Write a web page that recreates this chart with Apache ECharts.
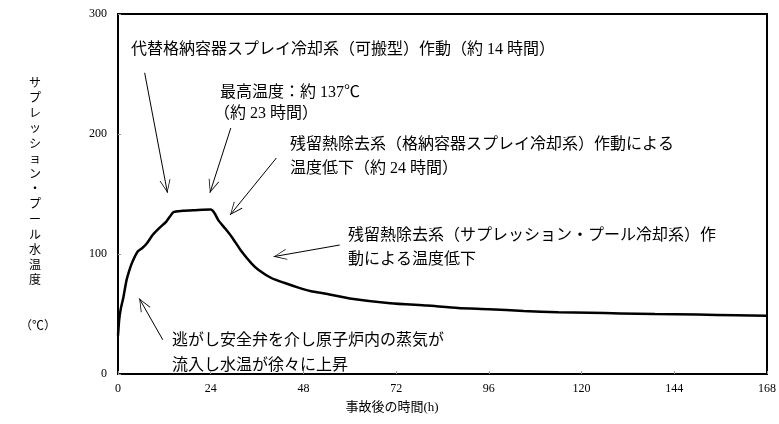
<!DOCTYPE html>
<html>
<head>
<meta charset="utf-8">
<script src="https://cdn.jsdelivr.net/npm/echarts@6/dist/echarts.min.js"></script>
<style>
  html, body { margin: 0; padding: 0; background: #fff; }
  #chart { width: 779px; height: 424px; }
</style>
</head>
<body>
<div id="chart"></div>
<script>
// 事故後の時間 (h) と サプレッション・プール水温度 (℃)
const hours = [0, 0.3, 0.7, 1.4, 2.2, 3.1, 3.8, 5.1, 6.3, 7.5, 9, 10.8, 12.5, 14.4, 16.7, 20, 24,
  25, 26, 27.8, 29.5, 32, 34.6, 36.4, 39.7, 43, 46.7, 50, 53.5, 60, 70.5, 80, 88, 96, 105, 114,
  122, 130, 139, 150, 160, 168];
const temps = [32, 45, 54, 64, 78, 88, 94, 102, 105, 109, 116, 122, 127, 135, 136, 136.5, 137,
  134, 128, 121, 114, 102, 92, 86.7, 80, 76, 72, 69, 67, 63, 59, 57, 55, 54, 52.5, 51.5,
  51, 50.5, 50, 49.5, 49, 48.5];

const xTicks = [0, 24, 48, 72, 96, 120, 144, 168];
const yTicks = [0, 100, 200, 300];

// 矢印 (始点 [h, ℃], 終点 [h, ℃])
const arrowFrom = [[6.9, 251], [29.2, 205], [41, 180], [57.4, 107.5], [11.6, 28.5]];
const arrowTo = [[12.8, 151], [23.8, 151], [29, 132.5], [40.3, 97.8], [5.5, 63]];

const serif = "'Liberation Serif', 'Noto Sans CJK JP', serif";
const jp = "'Liberation Serif', 'Noto Sans CJK JP', sans-serif";

// open chevron pointing up, tip in the middle of the bbox
const chevron = 'path://M50 -100 L50.4 -100 L50 -99.6 Z M50 0 L100 100 L92 100 L50 14 L8 100 L0 100 Z';

const myChart = echarts.init(document.getElementById('chart'));

function label(text, x, y) {
  return {
    type: 'text',
    x: x, y: y,
    style: {
      text: text,
      fill: '#000',
      fontSize: 16,
      fontFamily: jp,
      textVerticalAlign: 'middle',
      verticalAlign: 'middle'
    }
  };
}

const yName = 'サプレッション・プール水温度'.split('').join('\n');

let option = {
  animation: false,
  grid: {
    left: 118,
    right: 6,
    top: 14,
    bottom: 50,
    show: true,
    borderColor: '#000',
    borderWidth: 2
  },
  xAxis: {
    type: 'value',
    min: 0,
    max: 168,
    interval: 24,
    axisLine: { lineStyle: { color: '#000', width: 2 } },
    axisTick: { show: true, inside: true, length: 3, lineStyle: { color: '#999' } },
    axisLabel: {
      color: '#000', fontSize: 12, fontFamily: serif, margin: 9,
      formatter: v => xTicks.indexOf(v) >= 0 ? String(v) : ''
    },
    splitLine: { show: false }
  },
  yAxis: {
    type: 'value',
    min: 0,
    max: 300,
    interval: 100,
    axisLine: { show: true, lineStyle: { color: '#000', width: 2 } },
    axisTick: { show: true, inside: true, length: 3, lineStyle: { color: '#999' } },
    axisLabel: {
      color: '#000', fontSize: 12, fontFamily: serif, margin: 11,
      formatter: v => yTicks.indexOf(v) >= 0 ? String(v) : ''
    },
    splitLine: { show: false }
  },
  series: [
    {
      type: 'line',
      data: hours.map((h, i) => [h, temps[i]]),
      showSymbol: false,
      smooth: 0.2,
      lineStyle: { color: '#000', width: 2.5 },
      markLine: {
        silent: true,
        symbol: ['none', chevron],
        symbolSize: [11, 26],
        label: { show: false },
        lineStyle: { color: '#000', width: 1, type: 'solid' },
        data: arrowFrom.map((p, i) => [{ coord: p }, { coord: arrowTo[i] }])
      }
    }
  ],
  graphic: [
    label('代替格納容器スプレイ冷却系（可搬型）作動（約 14 時間）', 131, 50),
    label('最高温度：約 137℃', 220, 93),
    label('（約 23 時間）', 214, 114),
    label('残留熱除去系（格納容器スプレイ冷却系）作動による', 290, 145),
    label('温度低下（約 24 時間）', 290, 169),
    label('残留熱除去系（サプレッション・プール冷却系）作', 348, 236),
    label('動による温度低下', 348, 260),
    label('逃がし安全弁を介し原子炉内の蒸気が', 172, 341),
    label('流入し水温が徐々に上昇', 172, 366),
    {
      type: 'text',
      x: 35, y: 76,
      style: {
        text: yName,
        fill: '#000',
        fontSize: 12,
        lineHeight: 15.2,
        fontFamily: jp,
        textAlign: 'center',
        align: 'center'
      }
    },
    {
      type: 'text',
      x: 38, y: 327,
      style: {
        text: '（℃）',
        fill: '#000',
        fontSize: 12,
        fontFamily: jp,
        textAlign: 'center', align: 'center',
        textVerticalAlign: 'middle', verticalAlign: 'middle'
      }
    },
    {
      type: 'text',
      x: 392, y: 408,
      style: {
        text: '事故後の時間(h)',
        fill: '#000',
        fontSize: 13,
        fontFamily: jp,
        textAlign: 'center', align: 'center',
        textVerticalAlign: 'middle', verticalAlign: 'middle'
      }
    }
  ]
};

myChart.setOption(option);
</script>
</body>
</html>
